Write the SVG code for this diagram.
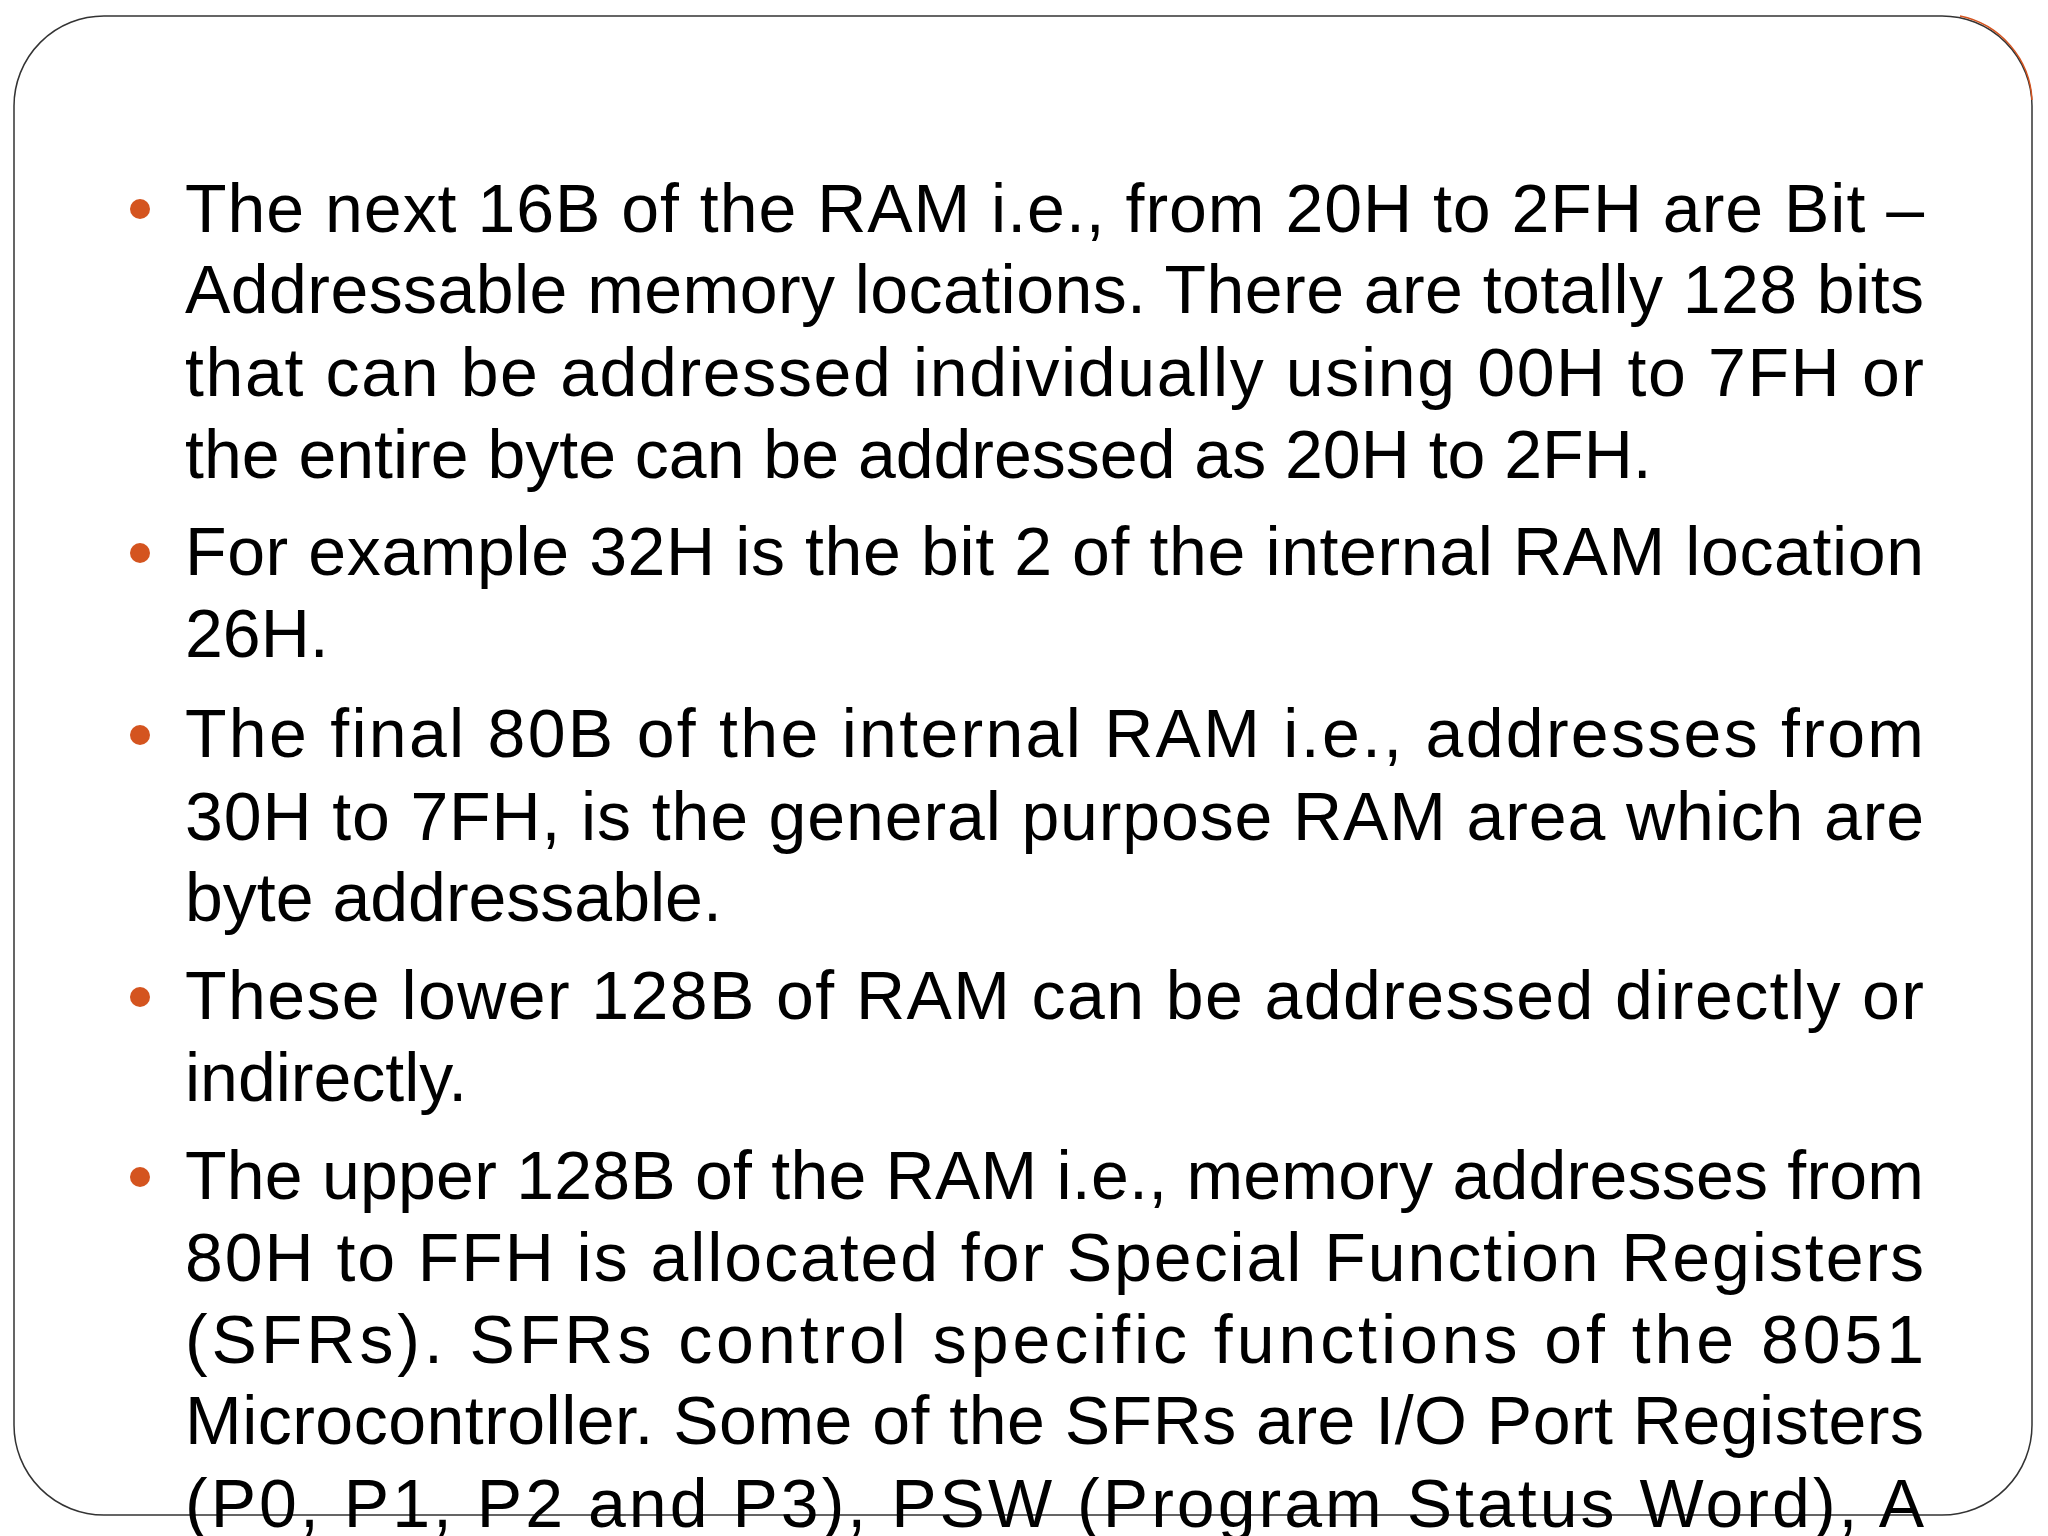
<svg xmlns="http://www.w3.org/2000/svg" width="2048" height="1536" viewBox="0 0 2048 1536">
<style>
text{font-family:"Liberation Sans",Arial,sans-serif;font-size:68px;fill:#000}
.b{fill:#D4541F}
</style>
<rect width="2048" height="1536" fill="#fff"/>
<rect x="14" y="16" width="2018" height="1499" rx="90" ry="90" fill="none" stroke="#333" stroke-width="1.5"/>
<path d="M1960 16 A90 90 0 0 1 2032 100" fill="none" stroke="#D4541F" stroke-width="1.5"/>
<g id="bullets">
<circle class="b" cx="140" cy="209" r="10"/>
<circle class="b" cx="140" cy="553" r="10"/>
<circle class="b" cx="140" cy="735" r="10"/>
<circle class="b" cx="140" cy="997" r="10"/>
<circle class="b" cx="140" cy="1177" r="10"/>
</g>
<g id="text">
<text x="185" y="232" textLength="1739" lengthAdjust="spacing">The next 16B of the RAM i.e., from 20H to 2FH are Bit –</text>
<text x="185" y="313" textLength="1739" lengthAdjust="spacing">Addressable memory locations. There are totally 128 bits</text>
<text x="185" y="396" textLength="1739" lengthAdjust="spacing">that can be addressed individually using 00H to 7FH or</text>
<text x="185" y="478">the entire byte can be addressed as 20H to 2FH.</text>
<text x="185" y="575" textLength="1739" lengthAdjust="spacing">For example 32H is the bit 2 of the internal RAM location</text>
<text x="185" y="657">26H.</text>
<text x="185" y="757" textLength="1739" lengthAdjust="spacing">The final 80B of the internal RAM i.e., addresses from</text>
<text x="185" y="840" textLength="1739" lengthAdjust="spacing">30H to 7FH, is the general purpose RAM area which are</text>
<text x="185" y="921">byte addressable.</text>
<text x="185" y="1019" textLength="1739" lengthAdjust="spacing">These lower 128B of RAM can be addressed directly or</text>
<text x="185" y="1101">indirectly.</text>
<text x="185" y="1199" textLength="1739" lengthAdjust="spacing">The upper 128B of the RAM i.e., memory addresses from</text>
<text x="185" y="1281" textLength="1739" lengthAdjust="spacing">80H to FFH is allocated for Special Function Registers</text>
<text x="185" y="1363" textLength="1739" lengthAdjust="spacing">(SFRs). SFRs control specific functions of the 8051</text>
<text x="185" y="1444" textLength="1739" lengthAdjust="spacing">Microcontroller. Some of the SFRs are I/O Port Registers</text>
<text x="185" y="1527" textLength="1739" lengthAdjust="spacing">(P0, P1, P2 and P3), PSW (Program Status Word), A</text>
</g>
</svg>
